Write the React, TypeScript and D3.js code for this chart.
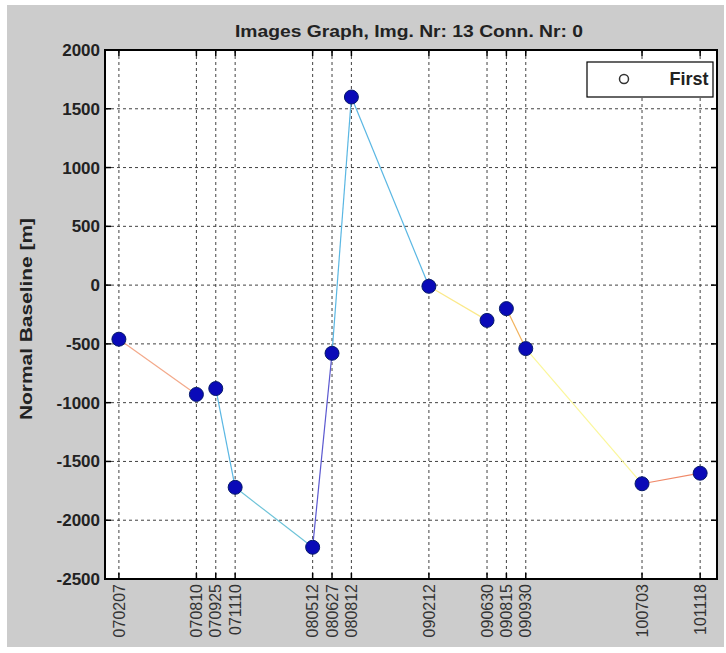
import React from 'react'
import * as d3 from 'd3'

const title = 'Images Graph, Img. Nr: 13 Conn. Nr: 0'
const yLabel = 'Normal Baseline [m]'
const legendLabel = 'First'

// acquisition dates (yymmdd) and normal baselines
const dates = ['070207', '070810', '070925', '071110', '080512', '080627', '080812',
  '090212', '090630', '090815', '090930', '100703', '101118']
const baselines = [-460, -930, -880, -1720, -2230, -580, 1600, -10, -300, -200, -540, -1690, -1600]

// connections between images: [from, to, colour]
const edges: [string, string, string][] = [
  ['070207', '070810', '#f3a98a'],
  ['070925', '071110', '#5ab7e3'],
  ['071110', '080512', '#6ec3d8'],
  ['080512', '080627', '#5b58d0'],
  ['080627', '080812', '#5ab7e3'],
  ['080812', '090212', '#5ab7e3'],
  ['090212', '090630', '#fbe98a'],
  ['090815', '090930', '#f2b35c'],
  ['090930', '100703', '#fbf79a'],
  ['100703', '101118', '#f08a6a'],
]

const yTicks = [2000, 1500, 1000, 500, 0, -500, -1000, -1500, -2000, -2500]
const xLimits = ['070105', '101228']

const parse = d3.timeParse('%y%m%d')

export default function App () {
  const W = 726
  const H = 653
  const plot = { left: 105, right: 717, top: 50, bottom: 579 }

  const x = d3.scaleTime()
    .domain(xLimits.map(d => parse(d) as Date))
    .range([plot.left, plot.right])
  const y = d3.scaleLinear()
    .domain([-2500, 2000])
    .range([plot.bottom, plot.top])

  const byDate: Record<string, number> = {}
  dates.forEach((d, i) => { byDate[d] = baselines[i] })
  const line = d3.line<[string, number]>()
    .x(d => x(parse(d[0]) as Date))
    .y(d => y(d[1]))

  const font = '"Liberation Sans", Arial, sans-serif'

  return (
    <svg width={W} height={H} style={{ position: 'absolute', left: 0, top: 0 }}
      fontFamily={font}>
      <rect x={0} y={0} width={W} height={H} fill='#fff' />
      <rect x={7} y={5} width={717} height={642} fill='#cccccc' />
      <rect x={plot.left} y={plot.top} width={plot.right - plot.left}
        height={plot.bottom - plot.top} fill='#fff' />

      {/* grid */}
      <g stroke='#222' strokeWidth={1} strokeDasharray='3,3' opacity={0.85}>
        {dates.map(d => (
          <line key={d} x1={x(parse(d) as Date)} x2={x(parse(d) as Date)}
            y1={plot.top} y2={plot.bottom} />
        ))}
        {yTicks.slice(1, -1).map(t => (
          <line key={t} x1={plot.left} x2={plot.right} y1={y(t)} y2={y(t)} />
        ))}
      </g>

      {/* tick marks */}
      <g stroke='#000' strokeWidth={1.5}>
        {dates.map(d => {
          const px = x(parse(d) as Date)
          return (
            <g key={d}>
              <line x1={px} x2={px} y1={plot.bottom} y2={plot.bottom - 6} />
              <line x1={px} x2={px} y1={plot.top} y2={plot.top + 6} />
            </g>
          )
        })}
        {yTicks.map(t => (
          <g key={t}>
            <line x1={plot.left} x2={plot.left + 6} y1={y(t)} y2={y(t)} />
            <line x1={plot.right} x2={plot.right - 6} y1={y(t)} y2={y(t)} />
          </g>
        ))}
      </g>

      {/* connections */}
      <g fill='none' strokeWidth={1.2}>
        {edges.map(([a, b, c]) => (
          <path key={a + b} d={line([[a, byDate[a]], [b, byDate[b]]]) || ''} stroke={c} />
        ))}
      </g>

      {/* images */}
      <g fill='#0a0ab8' stroke='#061a6a' strokeWidth={1}>
        {dates.map((d, i) => (
          <circle key={d} cx={x(parse(d) as Date)} cy={y(baselines[i])} r={7} />
        ))}
      </g>

      <rect x={plot.left} y={plot.top} width={plot.right - plot.left}
        height={plot.bottom - plot.top} fill='none' stroke='#000' strokeWidth={2} />

      {/* y tick labels */}
      <g fontSize={17} fontWeight='bold' fill='#222' textAnchor='end'>
        {yTicks.map(t => (
          <text key={t} x={plot.left - 5} y={y(t)} dy='0.35em'>{t}</text>
        ))}
      </g>

      {/* x tick labels */}
      <g fontSize={16} fill='#333' textAnchor='end'>
        {dates.map(d => {
          const px = x(parse(d) as Date)
          return (
            <text key={d} transform={`translate(${px},${plot.bottom + 5}) rotate(-90)`}
              dy='0.35em'>{d}</text>
          )
        })}
      </g>

      <text x={235} y={37} textLength={348} lengthAdjust='spacingAndGlyphs'
        fontSize={17} fontWeight='bold' fill='#222'>{title}</text>
      <text transform='translate(32,420) rotate(-90)' textLength={202}
        lengthAdjust='spacingAndGlyphs' fontSize={17} fontWeight='bold'
        fill='#222'>{yLabel}</text>

      {/* legend */}
      <g>
        <rect x={587} y={62} width={126} height={35} fill='#fff' stroke='#000' strokeWidth={1.2} />
        <circle cx={624} cy={79} r={4.5} fill='none' stroke='#333' strokeWidth={1.5} />
        <text x={689} y={79} dy='0.35em' textAnchor='middle' fontSize={18}
          fontWeight='bold' fill='#222'>{legendLabel}</text>
      </g>
    </svg>
  )
}
